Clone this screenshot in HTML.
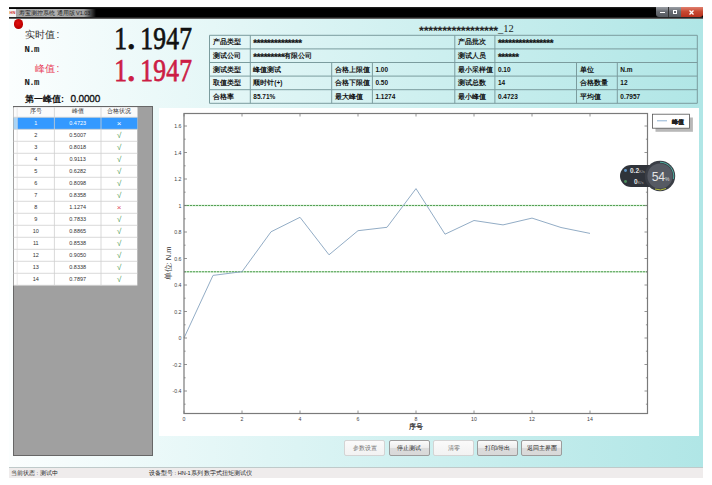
<!DOCTYPE html>
<html><head><meta charset="utf-8">
<style>
*{margin:0;padding:0;box-sizing:border-box}
html,body{width:712px;height:485px;overflow:hidden;background:#fff;font-family:"Liberation Sans",sans-serif}
.a{position:absolute}
#win{left:9px;top:7px;width:694px;height:470px;background:linear-gradient(to right,#fbfefe,#b0e6e6)}
#title{left:9px;top:7px;width:694px;height:11.5px;background:linear-gradient(#2a2a2a 0,#0a0a0a 1.2px,#000 2px,#000 10px,#3a3a3a 10.8px,#606060 11.5px)}
#glow{left:16px;top:8.5px;width:80px;height:8.5px;background:linear-gradient(to right,#a4a4a4,#b0b0b0 50%,#a0a0a0 85%,rgba(0,0,0,0))}
#ttxt{left:19px;top:8.5px;font-size:5.5px;line-height:9px;color:#1e1e1e;white-space:nowrap}
#icon{left:9px;top:8.5px;width:7px;height:8.5px;background:#f4f4f4;font-size:4px;color:#d03030;font-weight:bold;line-height:8.5px;text-align:center}
.wb{top:7px;height:9.5px}
#bmin{left:655.5px;width:13.5px;background:linear-gradient(#9a9ea4,#6a6e74 45%,#55595f);border-radius:0 0 0 3px;border-right:1px solid #333}
#bmax{left:669px;width:11.5px;background:linear-gradient(#9a9ea4,#6a6e74 45%,#55595f)}
#bcls{left:680.5px;width:22.5px;background:linear-gradient(#e08070,#c84a32 45%,#b8321e);border-radius:0 0 3px 0}
.wb i{position:absolute;display:block}
#dot{left:13.8px;top:19.3px;width:9.4px;height:9.4px;border-radius:50%;background:radial-gradient(circle at 45% 40%,#e01010,#c00000 60%,#900000)}
.cj{font-family:"Liberation Sans",sans-serif}
.big{font-family:"Liberation Serif",serif;font-size:31.5px;line-height:30px;white-space:nowrap;-webkit-text-stroke:0.75px currentColor}
.big span{display:inline-block;width:13.2px;text-align:center;transform:scaleX(0.81)}
.big span.p{text-align:left;text-indent:0.5px;transform:scale(1.2);transform-origin:0 24px}
#status{left:9px;top:467px;width:694px;height:10.5px;background:#efecec;border-top:1px solid #bfcaca}
#status div{position:absolute;top:0.5px;font-size:5.6px;line-height:9px;color:#222;white-space:nowrap}
table.info{position:absolute;border-collapse:collapse;table-layout:fixed}
table.info td{border:1px solid #7b9c9e;height:13.6px;font-size:6.5px;line-height:8px;padding:0 0 0 3px;white-space:nowrap;overflow:hidden;color:#111;font-weight:bold}
#panel{left:12.5px;top:106.3px;width:140px;height:350px;background:#a0a0a0;border:1.2px solid #676767}
.btn{position:absolute;top:440px;width:41px;height:16px;font-size:6px;line-height:14px;text-align:center;color:#1a1a1a;border:1px solid #9c9c9c;border-radius:2px;background:linear-gradient(#fbfbfb,#ececec 50%,#dcdcdc 52%,#d8d8d8)}
.btn.dis{color:#707070;border-color:#d4d4d4;background:linear-gradient(#fafafa,#f2f2f2)}
.ic .z{margin-left:-1.3px;margin-right:1.3px}
.ic{position:absolute;height:13.6px;line-height:13.6px;font-size:6.5px;font-weight:bold;color:#111;white-space:nowrap}
.lc{position:absolute;text-align:center;font-size:5.5px;white-space:nowrap}
.hd{color:#333}
.mk{font-size:8px;padding-top:1px}
.st{font-size:9.6px;letter-spacing:-0.28px;position:relative;top:2px;text-rendering:geometricPrecision;-webkit-text-stroke:0.25px currentColor}
.z{text-rendering:geometricPrecision;font-size:1.5em;letter-spacing:-0.06em;position:relative;top:.12em;-webkit-text-stroke:.3px currentColor}
tspan.z{font-size:1.5em}
#status .z,.btn .z,.lc .z,#ttxt .z{-webkit-text-stroke:0}
.cjk .z{font-size:1em;letter-spacing:0;top:0;-webkit-text-stroke:0;text-rendering:auto}
.cjk tspan.z{font-size:1em}
.cjk .ic .z{margin:0}
</style></head><body>
<div id="win" class="a"></div>
<div id="title" class="a"></div>
<div id="glow" class="a"></div>
<div id="icon" class="a">HN</div>
<div id="ttxt" class="a"><span class="z">寿宝测控系统</span> <span class="z">通用版</span> V1.03</div>
<div id="bmin" class="a wb"><i style="left:4px;top:4.5px;width:5px;height:1.6px;background:#fff"></i></div>
<div id="bmax" class="a wb"><i style="left:3.5px;top:2.5px;width:4px;height:4px;border:1px solid #fff;border-top-width:1.5px"></i></div>
<div id="bcls" class="a wb"><svg class="a" style="left:8.5px;top:2.5px" width="5" height="5" viewBox="0 0 5 5"><path d="M0.5 0.5L4.5 4.5M4.5 0.5L0.5 4.5" stroke="#fff" stroke-width="1.3"/></svg></div>
<div id="dot" class="a"></div>

<div class="a cj" style="left:25px;top:29px;font-size:10px;line-height:12px;color:#333;white-space:nowrap"><span class="z">实时值</span><b style="font-weight:normal;margin-left:1.5px">:</b></div>
<div class="a" style="left:24.5px;top:45.5px;font-size:9px;line-height:9px;font-weight:bold;color:#222;font-family:'Liberation Mono',monospace;letter-spacing:-0.6px">N.m</div>
<div class="a cj" style="left:35px;top:62.5px;font-size:10px;line-height:12px;color:#e8405a;white-space:nowrap"><span class="z">峰值</span><b style="font-weight:normal;margin-left:1.5px">:</b></div>
<div class="a" style="left:24.5px;top:78.5px;font-size:9px;line-height:9px;font-weight:bold;color:#222;font-family:'Liberation Mono',monospace;letter-spacing:-0.6px">N.m</div>
<div class="a cj" style="left:25px;top:93px;font-size:9px;line-height:12px;font-weight:bold;color:#111;white-space:nowrap"><span class="z">第一峰值</span>:</div><div class="a" style="left:70.5px;top:93.5px;font-size:10px;line-height:12px;color:#111;white-space:nowrap;-webkit-text-stroke:0.3px #111;text-rendering:geometricPrecision;letter-spacing:-0.15px">0.0000</div>

<div class="a big" style="left:112.5px;top:24px;color:#111"><span>1</span><span class="p">.</span><span>1</span><span>9</span><span>4</span><span>7</span></div>
<div class="a big" style="left:112.5px;top:56px;color:#cc1d45"><span>1</span><span class="p">.</span><span>1</span><span>9</span><span>4</span><span>7</span></div>

<div class="a" style="left:419px;top:22px;font-size:9px;line-height:12px;white-space:nowrap;color:#222"><b style="font-size:12.5px;letter-spacing:-0.22px;position:relative;top:3px;text-rendering:geometricPrecision">*****************</b><span style="font-family:'Liberation Serif',serif;font-size:10.5px">_12</span></div>

<svg class="a" style="left:0;top:0" width="712" height="485" viewBox="0 0 712 485">
<line x1="209.5" y1="35.3" x2="697.3" y2="35.3" stroke="#7b9c9e" stroke-width="1"/>
<line x1="209.5" y1="48.9" x2="697.3" y2="48.9" stroke="#7b9c9e" stroke-width="1"/>
<line x1="209.5" y1="62.5" x2="697.3" y2="62.5" stroke="#7b9c9e" stroke-width="1"/>
<line x1="209.5" y1="76.1" x2="697.3" y2="76.1" stroke="#7b9c9e" stroke-width="1"/>
<line x1="209.5" y1="89.69999999999999" x2="697.3" y2="89.69999999999999" stroke="#7b9c9e" stroke-width="1"/>
<line x1="209.5" y1="103.3" x2="697.3" y2="103.3" stroke="#7b9c9e" stroke-width="1"/>
<line x1="209.5" y1="35.3" x2="209.5" y2="103.3" stroke="#7b9c9e" stroke-width="1"/>
<line x1="250.3" y1="35.3" x2="250.3" y2="103.3" stroke="#7b9c9e" stroke-width="1"/>
<line x1="454.8" y1="35.3" x2="454.8" y2="103.3" stroke="#7b9c9e" stroke-width="1"/>
<line x1="494.9" y1="35.3" x2="494.9" y2="103.3" stroke="#7b9c9e" stroke-width="1"/>
<line x1="697.3" y1="35.3" x2="697.3" y2="103.3" stroke="#7b9c9e" stroke-width="1"/>
<line x1="331.7" y1="62.5" x2="331.7" y2="103.3" stroke="#7b9c9e" stroke-width="1"/>
<line x1="372.4" y1="62.5" x2="372.4" y2="103.3" stroke="#7b9c9e" stroke-width="1"/>
<line x1="576.5" y1="62.5" x2="576.5" y2="103.3" stroke="#7b9c9e" stroke-width="1"/>
<line x1="617.3" y1="62.5" x2="617.3" y2="103.3" stroke="#7b9c9e" stroke-width="1"/>
</svg>
<div class="ic" style="left:212.5px;top:35.3px"><span class="z">产品类型</span></div>
<div class="ic" style="left:253.3px;top:35.3px"><span class="st">**************</span></div>
<div class="ic" style="left:457.8px;top:35.3px"><span class="z">产品批次</span></div>
<div class="ic" style="left:497.9px;top:35.3px"><span class="st">****************</span></div>
<div class="ic" style="left:212.5px;top:48.9px"><span class="z">测试公司</span></div>
<div class="ic" style="left:253.3px;top:48.9px"><span class="st">*********</span><span class="z">有限公司</span></div>
<div class="ic" style="left:457.8px;top:48.9px"><span class="z">测试人员</span></div>
<div class="ic" style="left:497.9px;top:48.9px"><span class="st">******</span></div>
<div class="ic" style="left:212.5px;top:62.5px"><span class="z">测试类型</span></div>
<div class="ic" style="left:253.3px;top:62.5px"><span class="z">峰值测试</span></div>
<div class="ic" style="left:334.7px;top:62.5px"><span class="z">合格上限值</span></div>
<div class="ic" style="left:375.4px;top:62.5px">1.00</div>
<div class="ic" style="left:457.8px;top:62.5px"><span class="z">最小采样值</span></div>
<div class="ic" style="left:497.9px;top:62.5px">0.10</div>
<div class="ic" style="left:579.5px;top:62.5px"><span class="z">单位</span></div>
<div class="ic" style="left:620.3px;top:62.5px">N.m</div>
<div class="ic" style="left:212.5px;top:76.1px"><span class="z">取值类型</span></div>
<div class="ic" style="left:253.3px;top:76.1px"><span class="z">顺时针</span>(+)</div>
<div class="ic" style="left:334.7px;top:76.1px"><span class="z">合格下限值</span></div>
<div class="ic" style="left:375.4px;top:76.1px">0.50</div>
<div class="ic" style="left:457.8px;top:76.1px"><span class="z">测试总数</span></div>
<div class="ic" style="left:497.9px;top:76.1px">14</div>
<div class="ic" style="left:579.5px;top:76.1px"><span class="z">合格数量</span></div>
<div class="ic" style="left:620.3px;top:76.1px">12</div>
<div class="ic" style="left:212.5px;top:89.7px"><span class="z">合格率</span></div>
<div class="ic" style="left:253.3px;top:89.7px">85.71%</div>
<div class="ic" style="left:334.7px;top:89.7px"><span class="z">最大峰值</span></div>
<div class="ic" style="left:375.4px;top:89.7px">1.1274</div>
<div class="ic" style="left:457.8px;top:89.7px"><span class="z">最小峰值</span></div>
<div class="ic" style="left:497.9px;top:89.7px">0.4723</div>
<div class="ic" style="left:579.5px;top:89.7px"><span class="z">平均值</span></div>
<div class="ic" style="left:620.3px;top:89.7px">0.7957</div>

<div id="panel" class="a"></div>
<svg class="a" style="left:0;top:0" width="712" height="485" viewBox="0 0 712 485">
<rect x="13.6" y="107.4" width="123.70000000000002" height="177.9" fill="#fff"/>
<rect x="13.6" y="107.4" width="123.70000000000002" height="9.899999999999991" fill="#fbfbfb"/>
<rect x="17.2" y="117.3" width="120.10000000000001" height="12.000000000000014" fill="#3399ff"/>
<rect x="13.6" y="117.3" width="3.5999999999999996" height="12.000000000000014" fill="#a8d4f6"/>
<line x1="13.6" y1="117.3" x2="137.3" y2="117.3" stroke="#cfcfcf" stroke-width="0.8"/>
<line x1="13.6" y1="129.3" x2="137.3" y2="129.3" stroke="#cfcfcf" stroke-width="0.8"/>
<line x1="13.6" y1="141.3" x2="137.3" y2="141.3" stroke="#cfcfcf" stroke-width="0.8"/>
<line x1="13.6" y1="153.3" x2="137.3" y2="153.3" stroke="#cfcfcf" stroke-width="0.8"/>
<line x1="13.6" y1="165.3" x2="137.3" y2="165.3" stroke="#cfcfcf" stroke-width="0.8"/>
<line x1="13.6" y1="177.3" x2="137.3" y2="177.3" stroke="#cfcfcf" stroke-width="0.8"/>
<line x1="13.6" y1="189.3" x2="137.3" y2="189.3" stroke="#cfcfcf" stroke-width="0.8"/>
<line x1="13.6" y1="201.3" x2="137.3" y2="201.3" stroke="#cfcfcf" stroke-width="0.8"/>
<line x1="13.6" y1="213.3" x2="137.3" y2="213.3" stroke="#cfcfcf" stroke-width="0.8"/>
<line x1="13.6" y1="225.3" x2="137.3" y2="225.3" stroke="#cfcfcf" stroke-width="0.8"/>
<line x1="13.6" y1="237.3" x2="137.3" y2="237.3" stroke="#cfcfcf" stroke-width="0.8"/>
<line x1="13.6" y1="249.3" x2="137.3" y2="249.3" stroke="#cfcfcf" stroke-width="0.8"/>
<line x1="13.6" y1="261.3" x2="137.3" y2="261.3" stroke="#cfcfcf" stroke-width="0.8"/>
<line x1="13.6" y1="273.3" x2="137.3" y2="273.3" stroke="#cfcfcf" stroke-width="0.8"/>
<line x1="13.6" y1="285.3" x2="137.3" y2="285.3" stroke="#cfcfcf" stroke-width="0.8"/>
<line x1="54.4" y1="107.4" x2="54.4" y2="285.3" stroke="#cfcfcf" stroke-width="0.8"/>
<line x1="101.0" y1="107.4" x2="101.0" y2="285.3" stroke="#cfcfcf" stroke-width="0.8"/>
<line x1="17.2" y1="107.4" x2="17.2" y2="285.3" stroke="#dcdcdc" stroke-width="0.6"/>
</svg>
<div class="lc hd" style="left:17.2px;top:107.4px;width:37.2px;height:9.9px;line-height:9.9px;"><span class="z">序号</span></div>
<div class="lc hd" style="left:54.4px;top:107.4px;width:46.6px;height:9.9px;line-height:9.9px;"><span class="z">峰值</span></div>
<div class="lc hd" style="left:101.0px;top:107.4px;width:36.3px;height:9.9px;line-height:9.9px;"><span class="z">合格状况</span></div>
<div class="lc dv" style="left:17.2px;top:117.3px;width:37.2px;height:12.0px;line-height:12.0px;color:#fff">1</div>
<div class="lc dv" style="left:54.4px;top:117.3px;width:46.6px;height:12.0px;line-height:12.0px;color:#fff">0.4723</div>
<div class="lc mk" style="left:101.0px;top:117.3px;width:36.3px;height:12.0px;line-height:12.0px;color:#fff">×</div>
<div class="lc dv" style="left:17.2px;top:129.3px;width:37.2px;height:12.0px;line-height:12.0px;color:#333">2</div>
<div class="lc dv" style="left:54.4px;top:129.3px;width:46.6px;height:12.0px;line-height:12.0px;color:#333">0.5007</div>
<div class="lc mk" style="left:101.0px;top:129.3px;width:36.3px;height:12.0px;line-height:12.0px;color:#4a9a50">√</div>
<div class="lc dv" style="left:17.2px;top:141.3px;width:37.2px;height:12.0px;line-height:12.0px;color:#333">3</div>
<div class="lc dv" style="left:54.4px;top:141.3px;width:46.6px;height:12.0px;line-height:12.0px;color:#333">0.8018</div>
<div class="lc mk" style="left:101.0px;top:141.3px;width:36.3px;height:12.0px;line-height:12.0px;color:#4a9a50">√</div>
<div class="lc dv" style="left:17.2px;top:153.3px;width:37.2px;height:12.0px;line-height:12.0px;color:#333">4</div>
<div class="lc dv" style="left:54.4px;top:153.3px;width:46.6px;height:12.0px;line-height:12.0px;color:#333">0.9113</div>
<div class="lc mk" style="left:101.0px;top:153.3px;width:36.3px;height:12.0px;line-height:12.0px;color:#4a9a50">√</div>
<div class="lc dv" style="left:17.2px;top:165.3px;width:37.2px;height:12.0px;line-height:12.0px;color:#333">5</div>
<div class="lc dv" style="left:54.4px;top:165.3px;width:46.6px;height:12.0px;line-height:12.0px;color:#333">0.6282</div>
<div class="lc mk" style="left:101.0px;top:165.3px;width:36.3px;height:12.0px;line-height:12.0px;color:#4a9a50">√</div>
<div class="lc dv" style="left:17.2px;top:177.3px;width:37.2px;height:12.0px;line-height:12.0px;color:#333">6</div>
<div class="lc dv" style="left:54.4px;top:177.3px;width:46.6px;height:12.0px;line-height:12.0px;color:#333">0.8098</div>
<div class="lc mk" style="left:101.0px;top:177.3px;width:36.3px;height:12.0px;line-height:12.0px;color:#4a9a50">√</div>
<div class="lc dv" style="left:17.2px;top:189.3px;width:37.2px;height:12.0px;line-height:12.0px;color:#333">7</div>
<div class="lc dv" style="left:54.4px;top:189.3px;width:46.6px;height:12.0px;line-height:12.0px;color:#333">0.8358</div>
<div class="lc mk" style="left:101.0px;top:189.3px;width:36.3px;height:12.0px;line-height:12.0px;color:#4a9a50">√</div>
<div class="lc dv" style="left:17.2px;top:201.3px;width:37.2px;height:12.0px;line-height:12.0px;color:#333">8</div>
<div class="lc dv" style="left:54.4px;top:201.3px;width:46.6px;height:12.0px;line-height:12.0px;color:#333">1.1274</div>
<div class="lc mk" style="left:101.0px;top:201.3px;width:36.3px;height:12.0px;line-height:12.0px;color:#e05060">×</div>
<div class="lc dv" style="left:17.2px;top:213.3px;width:37.2px;height:12.0px;line-height:12.0px;color:#333">9</div>
<div class="lc dv" style="left:54.4px;top:213.3px;width:46.6px;height:12.0px;line-height:12.0px;color:#333">0.7833</div>
<div class="lc mk" style="left:101.0px;top:213.3px;width:36.3px;height:12.0px;line-height:12.0px;color:#4a9a50">√</div>
<div class="lc dv" style="left:17.2px;top:225.3px;width:37.2px;height:12.0px;line-height:12.0px;color:#333">10</div>
<div class="lc dv" style="left:54.4px;top:225.3px;width:46.6px;height:12.0px;line-height:12.0px;color:#333">0.8865</div>
<div class="lc mk" style="left:101.0px;top:225.3px;width:36.3px;height:12.0px;line-height:12.0px;color:#4a9a50">√</div>
<div class="lc dv" style="left:17.2px;top:237.3px;width:37.2px;height:12.0px;line-height:12.0px;color:#333">11</div>
<div class="lc dv" style="left:54.4px;top:237.3px;width:46.6px;height:12.0px;line-height:12.0px;color:#333">0.8538</div>
<div class="lc mk" style="left:101.0px;top:237.3px;width:36.3px;height:12.0px;line-height:12.0px;color:#4a9a50">√</div>
<div class="lc dv" style="left:17.2px;top:249.3px;width:37.2px;height:12.0px;line-height:12.0px;color:#333">12</div>
<div class="lc dv" style="left:54.4px;top:249.3px;width:46.6px;height:12.0px;line-height:12.0px;color:#333">0.9050</div>
<div class="lc mk" style="left:101.0px;top:249.3px;width:36.3px;height:12.0px;line-height:12.0px;color:#4a9a50">√</div>
<div class="lc dv" style="left:17.2px;top:261.3px;width:37.2px;height:12.0px;line-height:12.0px;color:#333">13</div>
<div class="lc dv" style="left:54.4px;top:261.3px;width:46.6px;height:12.0px;line-height:12.0px;color:#333">0.8338</div>
<div class="lc mk" style="left:101.0px;top:261.3px;width:36.3px;height:12.0px;line-height:12.0px;color:#4a9a50">√</div>
<div class="lc dv" style="left:17.2px;top:273.3px;width:37.2px;height:12.0px;line-height:12.0px;color:#333">14</div>
<div class="lc dv" style="left:54.4px;top:273.3px;width:46.6px;height:12.0px;line-height:12.0px;color:#333">0.7897</div>
<div class="lc mk" style="left:101.0px;top:273.3px;width:36.3px;height:12.0px;line-height:12.0px;color:#4a9a50">√</div>

<div class="a" style="left:158.5px;top:108px;width:540px;height:328px;background:#fff"></div>
<svg class="a" style="left:0;top:0" width="712" height="485" viewBox="0 0 712 485">
<line x1="184.0" y1="205.5" x2="647.5" y2="205.5" stroke="#c4e6c4" stroke-width="1.6"/>
<line x1="184.0" y1="205.5" x2="647.5" y2="205.5" stroke="#56a056" stroke-width="1" stroke-dasharray="2,1"/>
<line x1="184.0" y1="271.75" x2="647.5" y2="271.75" stroke="#c4e6c4" stroke-width="1.6"/>
<line x1="184.0" y1="271.75" x2="647.5" y2="271.75" stroke="#56a056" stroke-width="1" stroke-dasharray="2,1"/>
<polyline points="184.0,338.0 213.0,275.4 242.0,271.7 271.0,231.8 300.0,217.3 329.0,254.8 358.0,230.7 387.0,227.3 416.0,188.6 445.0,234.2 474.0,220.5 503.0,224.9 532.0,218.1 561.0,227.5 590.0,233.4" fill="none" stroke="#8ca8c2" stroke-width="0.95"/>
<rect x="184.0" y="113.5" width="463.5" height="300.0" fill="none" stroke="#7a7a7a" stroke-width="1.2"/>
<line x1="184.0" y1="404.2" x2="185.6" y2="404.2" stroke="#7a7a7a" stroke-width="0.8"/>
<line x1="645.9" y1="404.2" x2="647.5" y2="404.2" stroke="#7a7a7a" stroke-width="0.8"/>
<line x1="184.0" y1="391.0" x2="187.0" y2="391.0" stroke="#7a7a7a" stroke-width="0.8"/>
<line x1="644.5" y1="391.0" x2="647.5" y2="391.0" stroke="#7a7a7a" stroke-width="0.8"/>
<text x="181.5" y="393.0" text-anchor="end" font-size="5.2" fill="#444">-0.4</text>
<line x1="184.0" y1="377.8" x2="185.6" y2="377.8" stroke="#7a7a7a" stroke-width="0.8"/>
<line x1="645.9" y1="377.8" x2="647.5" y2="377.8" stroke="#7a7a7a" stroke-width="0.8"/>
<line x1="184.0" y1="364.5" x2="187.0" y2="364.5" stroke="#7a7a7a" stroke-width="0.8"/>
<line x1="644.5" y1="364.5" x2="647.5" y2="364.5" stroke="#7a7a7a" stroke-width="0.8"/>
<text x="181.5" y="366.5" text-anchor="end" font-size="5.2" fill="#444">-0.2</text>
<line x1="184.0" y1="351.2" x2="185.6" y2="351.2" stroke="#7a7a7a" stroke-width="0.8"/>
<line x1="645.9" y1="351.2" x2="647.5" y2="351.2" stroke="#7a7a7a" stroke-width="0.8"/>
<line x1="184.0" y1="338.0" x2="187.0" y2="338.0" stroke="#7a7a7a" stroke-width="0.8"/>
<line x1="644.5" y1="338.0" x2="647.5" y2="338.0" stroke="#7a7a7a" stroke-width="0.8"/>
<text x="181.5" y="340.0" text-anchor="end" font-size="5.2" fill="#444">0</text>
<line x1="184.0" y1="324.8" x2="185.6" y2="324.8" stroke="#7a7a7a" stroke-width="0.8"/>
<line x1="645.9" y1="324.8" x2="647.5" y2="324.8" stroke="#7a7a7a" stroke-width="0.8"/>
<line x1="184.0" y1="311.5" x2="187.0" y2="311.5" stroke="#7a7a7a" stroke-width="0.8"/>
<line x1="644.5" y1="311.5" x2="647.5" y2="311.5" stroke="#7a7a7a" stroke-width="0.8"/>
<text x="181.5" y="313.5" text-anchor="end" font-size="5.2" fill="#444">0.2</text>
<line x1="184.0" y1="298.2" x2="185.6" y2="298.2" stroke="#7a7a7a" stroke-width="0.8"/>
<line x1="645.9" y1="298.2" x2="647.5" y2="298.2" stroke="#7a7a7a" stroke-width="0.8"/>
<line x1="184.0" y1="285.0" x2="187.0" y2="285.0" stroke="#7a7a7a" stroke-width="0.8"/>
<line x1="644.5" y1="285.0" x2="647.5" y2="285.0" stroke="#7a7a7a" stroke-width="0.8"/>
<text x="181.5" y="287.0" text-anchor="end" font-size="5.2" fill="#444">0.4</text>
<line x1="184.0" y1="271.8" x2="185.6" y2="271.8" stroke="#7a7a7a" stroke-width="0.8"/>
<line x1="645.9" y1="271.8" x2="647.5" y2="271.8" stroke="#7a7a7a" stroke-width="0.8"/>
<line x1="184.0" y1="258.5" x2="187.0" y2="258.5" stroke="#7a7a7a" stroke-width="0.8"/>
<line x1="644.5" y1="258.5" x2="647.5" y2="258.5" stroke="#7a7a7a" stroke-width="0.8"/>
<text x="181.5" y="260.5" text-anchor="end" font-size="5.2" fill="#444">0.6</text>
<line x1="184.0" y1="245.2" x2="185.6" y2="245.2" stroke="#7a7a7a" stroke-width="0.8"/>
<line x1="645.9" y1="245.2" x2="647.5" y2="245.2" stroke="#7a7a7a" stroke-width="0.8"/>
<line x1="184.0" y1="232.0" x2="187.0" y2="232.0" stroke="#7a7a7a" stroke-width="0.8"/>
<line x1="644.5" y1="232.0" x2="647.5" y2="232.0" stroke="#7a7a7a" stroke-width="0.8"/>
<text x="181.5" y="234.0" text-anchor="end" font-size="5.2" fill="#444">0.8</text>
<line x1="184.0" y1="218.8" x2="185.6" y2="218.8" stroke="#7a7a7a" stroke-width="0.8"/>
<line x1="645.9" y1="218.8" x2="647.5" y2="218.8" stroke="#7a7a7a" stroke-width="0.8"/>
<line x1="184.0" y1="205.5" x2="187.0" y2="205.5" stroke="#7a7a7a" stroke-width="0.8"/>
<line x1="644.5" y1="205.5" x2="647.5" y2="205.5" stroke="#7a7a7a" stroke-width="0.8"/>
<text x="181.5" y="207.5" text-anchor="end" font-size="5.2" fill="#444">1</text>
<line x1="184.0" y1="192.2" x2="185.6" y2="192.2" stroke="#7a7a7a" stroke-width="0.8"/>
<line x1="645.9" y1="192.2" x2="647.5" y2="192.2" stroke="#7a7a7a" stroke-width="0.8"/>
<line x1="184.0" y1="179.0" x2="187.0" y2="179.0" stroke="#7a7a7a" stroke-width="0.8"/>
<line x1="644.5" y1="179.0" x2="647.5" y2="179.0" stroke="#7a7a7a" stroke-width="0.8"/>
<text x="181.5" y="181.0" text-anchor="end" font-size="5.2" fill="#444">1.2</text>
<line x1="184.0" y1="165.8" x2="185.6" y2="165.8" stroke="#7a7a7a" stroke-width="0.8"/>
<line x1="645.9" y1="165.8" x2="647.5" y2="165.8" stroke="#7a7a7a" stroke-width="0.8"/>
<line x1="184.0" y1="152.5" x2="187.0" y2="152.5" stroke="#7a7a7a" stroke-width="0.8"/>
<line x1="644.5" y1="152.5" x2="647.5" y2="152.5" stroke="#7a7a7a" stroke-width="0.8"/>
<text x="181.5" y="154.5" text-anchor="end" font-size="5.2" fill="#444">1.4</text>
<line x1="184.0" y1="139.2" x2="185.6" y2="139.2" stroke="#7a7a7a" stroke-width="0.8"/>
<line x1="645.9" y1="139.2" x2="647.5" y2="139.2" stroke="#7a7a7a" stroke-width="0.8"/>
<line x1="184.0" y1="126.0" x2="187.0" y2="126.0" stroke="#7a7a7a" stroke-width="0.8"/>
<line x1="644.5" y1="126.0" x2="647.5" y2="126.0" stroke="#7a7a7a" stroke-width="0.8"/>
<text x="181.5" y="128.0" text-anchor="end" font-size="5.2" fill="#444">1.6</text>
<line x1="184.0" y1="413.5" x2="184.0" y2="410.5" stroke="#7a7a7a" stroke-width="0.8"/>
<line x1="184.0" y1="113.5" x2="184.0" y2="116.5" stroke="#7a7a7a" stroke-width="0.8"/>
<text x="184.0" y="420.5" text-anchor="middle" font-size="5.2" fill="#444">0</text>
<line x1="242.0" y1="413.5" x2="242.0" y2="410.5" stroke="#7a7a7a" stroke-width="0.8"/>
<line x1="242.0" y1="113.5" x2="242.0" y2="116.5" stroke="#7a7a7a" stroke-width="0.8"/>
<text x="242.0" y="420.5" text-anchor="middle" font-size="5.2" fill="#444">2</text>
<line x1="300.0" y1="413.5" x2="300.0" y2="410.5" stroke="#7a7a7a" stroke-width="0.8"/>
<line x1="300.0" y1="113.5" x2="300.0" y2="116.5" stroke="#7a7a7a" stroke-width="0.8"/>
<text x="300.0" y="420.5" text-anchor="middle" font-size="5.2" fill="#444">4</text>
<line x1="358.0" y1="413.5" x2="358.0" y2="410.5" stroke="#7a7a7a" stroke-width="0.8"/>
<line x1="358.0" y1="113.5" x2="358.0" y2="116.5" stroke="#7a7a7a" stroke-width="0.8"/>
<text x="358.0" y="420.5" text-anchor="middle" font-size="5.2" fill="#444">6</text>
<line x1="416.0" y1="413.5" x2="416.0" y2="410.5" stroke="#7a7a7a" stroke-width="0.8"/>
<line x1="416.0" y1="113.5" x2="416.0" y2="116.5" stroke="#7a7a7a" stroke-width="0.8"/>
<text x="416.0" y="420.5" text-anchor="middle" font-size="5.2" fill="#444">8</text>
<line x1="474.0" y1="413.5" x2="474.0" y2="410.5" stroke="#7a7a7a" stroke-width="0.8"/>
<line x1="474.0" y1="113.5" x2="474.0" y2="116.5" stroke="#7a7a7a" stroke-width="0.8"/>
<text x="474.0" y="420.5" text-anchor="middle" font-size="5.2" fill="#444">10</text>
<line x1="532.0" y1="413.5" x2="532.0" y2="410.5" stroke="#7a7a7a" stroke-width="0.8"/>
<line x1="532.0" y1="113.5" x2="532.0" y2="116.5" stroke="#7a7a7a" stroke-width="0.8"/>
<text x="532.0" y="420.5" text-anchor="middle" font-size="5.2" fill="#444">12</text>
<line x1="590.0" y1="413.5" x2="590.0" y2="410.5" stroke="#7a7a7a" stroke-width="0.8"/>
<line x1="590.0" y1="113.5" x2="590.0" y2="116.5" stroke="#7a7a7a" stroke-width="0.8"/>
<text x="590.0" y="420.5" text-anchor="middle" font-size="5.2" fill="#444">14</text>
<rect x="655.5" y="117.5" width="37.4" height="14.3" fill="#b8b8b8"/>
<rect x="652.5" y="114.2" width="37" height="14" fill="#fff" stroke="#555" stroke-width="0.8"/>
<line x1="657" y1="120.8" x2="667" y2="120.8" stroke="#8fb3d3" stroke-width="1"/>
<text x="671.5" y="123.5" font-size="5.6" font-weight="bold" fill="#222" stroke="#222" stroke-width="0.3"><tspan class="z">峰值</tspan></text>
<text x="415.5" y="428.5" text-anchor="middle" font-size="7" fill="#333" stroke="#333" stroke-width="0.25"><tspan class="z">序号</tspan></text>
<text transform="translate(171,263.5) rotate(-90)" text-anchor="middle" font-size="7.5" fill="#333" stroke-width="0"><tspan class="z">单位</tspan>: N.m</text>
</svg>

<div class="a" style="left:619.5px;top:165px;width:42px;height:22px;border-radius:11px;background:#2f333a"></div>
<div class="a" style="left:624.3px;top:168.8px;width:2.8px;height:2.8px;border-radius:50%;background:#5a8fc0"></div>
<div class="a" style="left:624.3px;top:180.3px;width:2.8px;height:2.8px;border-radius:50%;background:#4a8a5a"></div>
<div class="a" style="left:630px;top:165.5px;font-size:6.5px;line-height:9px;color:#e6e6e6;font-weight:bold;white-space:nowrap">0.2<span style="font-size:4px;font-weight:normal;color:#aaa">K/s</span></div>
<div class="a" style="left:634px;top:177px;font-size:6.5px;line-height:9px;color:#e6e6e6;font-weight:bold;white-space:nowrap">0<span style="font-size:4px;font-weight:normal;color:#aaa">K/s</span></div>
<svg class="a" style="left:644px;top:160px" width="32" height="32" viewBox="0 0 32 32">
<circle cx="16" cy="16" r="15.2" fill="#3a3e46"/>
<circle cx="16" cy="16" r="12.6" fill="#565a63"/>
<path d="M16 2.2 A13.8 13.8 0 0 1 29.4 19" fill="none" stroke="#4fb8a8" stroke-width="0.9"/>
<path d="M22 28.5 A13.8 13.8 0 0 1 11 29" fill="none" stroke="#b8c040" stroke-width="1"/>
<text x="7.8" y="20.6" font-size="12.2" fill="#e4e4e4" font-family="Liberation Sans" letter-spacing="-0.3">54</text>
<text x="21" y="20.6" font-size="5" fill="#ddd" font-family="Liberation Sans">%</text>
</svg>
<div class="btn dis" style="left:344px"><span class="z">参数设置</span></div>
<div class="btn" style="left:388.5px"><span class="z">停止测试</span></div>
<div class="btn dis" style="left:433px"><span class="z">清零</span></div>
<div class="btn" style="left:477px"><span class="z">打印</span>/<span class="z">导出</span></div>
<div class="btn" style="left:521px"><span class="z">返回主界面</span></div>

<div id="status" class="a"><div style="left:2px"><span class="z">当前状态</span> : <span class="z">测试中</span></div><div style="left:140px"><span class="z">设备型号</span> : HN-1<span class="z">系列</span> <span class="z">数字式扭矩测试仪</span></div></div>
<script>
(function(){var s=document.createElement('span');s.style.cssText='position:absolute;left:0;top:0;font-family:"Liberation Sans",sans-serif;font-size:100px;visibility:hidden;white-space:nowrap';s.textContent='\u5b9e\u5b9e';document.body.appendChild(s);var w=s.getBoundingClientRect().width;document.body.removeChild(s);if(w>175){document.documentElement.className+=' cjk';}})();
</script>
</body></html>
